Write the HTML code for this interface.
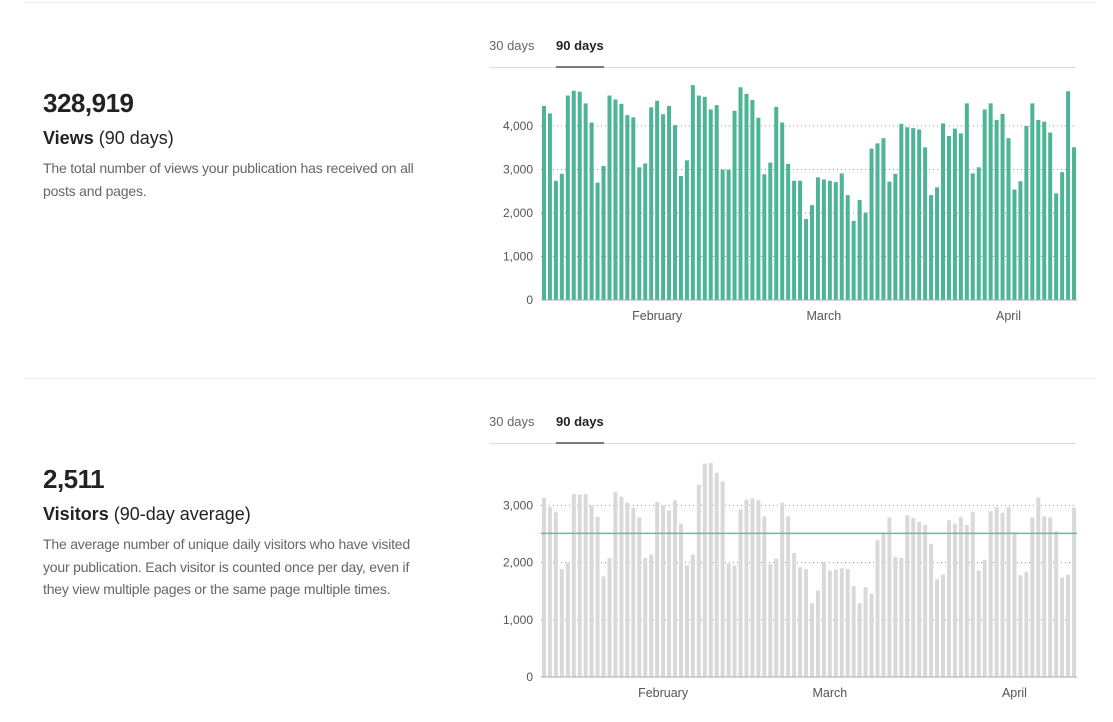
<!DOCTYPE html>
<html><head><meta charset="utf-8">
<style>
html,body{margin:0;padding:0;background:#fff;width:1113px;height:722px;overflow:hidden;font-family:"Liberation Sans",sans-serif;}
.abs{position:absolute;}
.sep{position:absolute;left:25px;width:1070px;height:1px;background:#ececec;}
.big{position:absolute;left:43px;font-size:26px;font-weight:bold;color:#222;letter-spacing:-0.5px;}
.ttl{position:absolute;left:43px;font-size:18px;color:#222;}
.ttl b{font-weight:bold;}
.desc{position:absolute;left:43px;font-size:14px;line-height:22.5px;color:#666;letter-spacing:-0.2px;}
.tab{position:absolute;font-size:13px;color:#666;}
.tab.on{font-weight:bold;color:#222;}
</style></head><body>
<div class="sep" style="top:2px"></div>
<div class="sep" style="top:378px"></div>

<div class="big" style="top:88px">328,919</div>
<div class="ttl" style="top:128px"><b>Views</b> (90 days)</div>
<div class="desc" style="top:157px;width:400px">The total number of views your publication has received on all posts and pages.</div>

<div class="big" style="top:464px">2,511</div>
<div class="ttl" style="top:504px"><b>Visitors</b> (90-day average)</div>
<div class="desc" style="top:533px;width:395px">The average number of unique daily visitors who have visited your publication. Each visitor is counted once per day, even if they view multiple pages or the same page multiple times.</div>

<div class="tab" style="left:489px;top:38px">30 days</div>
<div class="tab on" style="left:556px;top:38px">90 days</div>
<div class="tab" style="left:489px;top:414px">30 days</div>
<div class="tab on" style="left:556px;top:414px">90 days</div>

<svg id="svg" class="abs" style="left:0;top:0" width="1113" height="722"></svg>

<script>
const viewsValues=[4460,4290,2740,2900,4700,4810,4790,4520,4080,2700,3080,4700,4610,4510,4250,4200,3050,3140,4430,4580,4270,4460,4020,2850,3210,4940,4700,4670,4380,4480,
3000,3000,4350,4890,4740,4600,4190,2890,3160,4440,4080,3130,2740,2740,1860,2180,2820,2770,2740,2710,2910,2410,1820,2300,2010,3480,3600,3720,2720,2900,
4050,3970,3950,3920,3510,2410,2590,4060,3770,3940,3830,4520,2910,3050,4380,4520,4140,4280,3720,2540,2730,4000,4520,4140,4100,3850,2450,2940,4800,3510];
const visitorValues=[3130,2970,2880,1890,2000,3200,3190,3200,3000,2800,1760,2080,3240,3150,3050,2960,2790,2080,2140,3060,3000,2910,3090,2680,1950,2140,3360,3730,3740,3570,
3420,1980,1950,2930,3100,3120,3090,2810,1970,2070,3050,2810,2170,1920,1890,1290,1510,2010,1860,1880,1900,1890,1590,1290,1570,1460,2390,2530,2790,2100,
2080,2830,2780,2710,2660,2330,1710,1790,2740,2680,2800,2660,2880,1860,2050,2900,2970,2870,2970,2530,1780,1840,2790,3140,2810,2790,2550,1740,1790,2960];
const visitorAverage=2511;
const viewsTicks=[0,1000,2000,3000,4000];
const visitorTicks=[0,1000,2000,3000];
const viewsMonths=[["February",19],["March",47],["April",78]];
const visitorMonths=[["February",20],["March",48],["April",79]];

const NS="http://www.w3.org/2000/svg";
const svg=document.getElementById('svg');
function mk(t,a,parent){const e=document.createElementNS(NS,t);for(const k in a)e.setAttribute(k,a[k]);(parent||svg).appendChild(e);return e;}

function chart(cfg){
  const g=mk('g',{});
  
  
  const x0=541,x1=1077,n=cfg.values.length,step=(x1-x0)/n;
  const y=v=>cfg.y0-v*cfg.pxPer;
  const xc=i=>x0+(i+0.5)*step;
  // tab underline
  const tl=mk('line',{x1:490,x2:1075,y1:cfg.tabY,y2:cfg.tabY,stroke:'#ddd','stroke-width':1},g);
  
  
  const ta=mk('line',{x1:556,x2:604,y1:cfg.tabY-0.5,y2:cfg.tabY-0.5,stroke:'#555','stroke-width':1.5},g);
  
  
  cfg.ticks.forEach(t=>{
    const ty=y(t);
    if(t>0){const gl=mk('line',{x1:x0,x2:x1,y1:ty,y2:ty,stroke:'#999','stroke-width':1,'stroke-dasharray':'1,3'},g);
      
      }
    const tx=mk('text',{x:533,y:ty+4,'text-anchor':'end','font-size':12,fill:'#555','font-family':'Liberation Sans, sans-serif'},g);
    tx.textContent=t.toLocaleString('en-US');
    
    
  });
  cfg.values.forEach((v,i)=>{
    const r=mk('rect',{x:xc(i)-2,y:y(v),width:4,height:cfg.y0-y(v),fill:cfg.color},g);
    
    
  });
  const bl=mk('line',{x1:x0,x2:x1,y1:cfg.y0,y2:cfg.y0,stroke:'#aaa','stroke-width':1},g);
  
  
  if(cfg.avg!==undefined){
    const al=mk('line',{x1:x0,x2:x1,y1:y(cfg.avg),y2:y(cfg.avg),stroke:'#5fbf9c','stroke-width':1.5},g);
    
    
  }
  cfg.months.forEach(m=>{
    const tx=mk('text',{x:xc(m[1]),y:cfg.y0+20,'text-anchor':'middle','font-size':12.5,fill:'#555','font-family':'Liberation Sans, sans-serif'},g);
    tx.textContent=m[0];
    
    
  });
}
chart({name:'views-chart',values:viewsValues,ticks:viewsTicks,months:viewsMonths,y0:300,pxPer:43.5/1000,color:'#4db596',tabY:67.5});
chart({name:'visitors-chart',values:visitorValues,ticks:visitorTicks,months:visitorMonths,y0:677,pxPer:57.2/1000,color:'#d9d9d9',tabY:443.5,avg:visitorAverage});
</script>
</body></html>
